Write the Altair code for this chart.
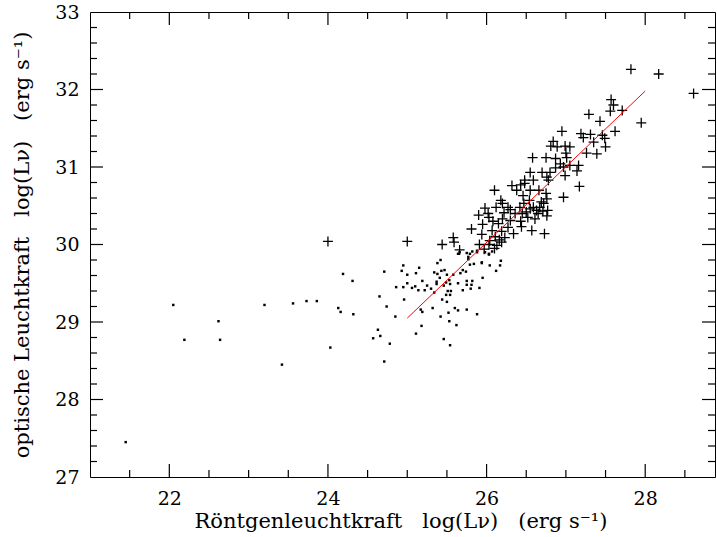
import altair as alt
import pandas as pd

# ---- data ----
dot_x = [21.45, 22.05, 22.19, 22.62, 22.64, 23.20, 23.42, 23.56, 23.73, 23.86,
         24.03, 24.13, 24.16, 24.19, 24.31, 24.32, 24.71, 24.86, 24.65, 24.74,
         24.85, 24.63, 24.66, 24.57, 24.78, 24.71, 24.95, 24.93, 25.00, 24.95,
         25.00, 24.96, 25.06, 25.10, 25.11, 25.15, 25.14, 25.19, 25.22, 25.25,
         25.30, 25.34, 25.34, 25.38, 25.42, 25.38, 25.37, 25.37, 25.41, 25.43,
         25.47, 25.50, 25.46, 25.49, 25.53, 25.54, 25.51, 25.55, 25.49, 25.54,
         25.44, 25.50, 25.32, 25.19, 25.17, 25.42, 25.52, 25.60, 25.64, 25.53,
         25.62, 25.75, 25.88, 25.18, 25.11, 25.46, 25.54, 25.58, 25.64, 25.67,
         25.70, 25.74, 25.75, 25.75, 25.70, 25.79, 25.82, 25.80, 25.84, 25.81,
         25.91, 25.94, 25.95, 26.04, 26.12, 26.17, 26.18, 25.64, 25.66, 25.79,
         25.82, 25.88, 25.98, 26.03, 26.07, 25.77, 25.75, 25.77, 25.88, 25.94,
         26.03]
dot_y = [27.45, 29.22, 28.77, 29.01, 28.77, 29.22, 28.45, 29.24, 29.27, 29.27,
         28.67, 29.18, 29.13, 29.62, 29.53, 29.10, 29.65, 29.45, 29.33, 29.20,
         29.07, 28.90, 28.82, 28.79, 28.72, 28.49, 29.73, 29.66, 29.61, 29.45,
         29.50, 29.29, 29.44, 29.46, 29.63, 29.70, 29.41, 29.53, 29.41, 29.47,
         29.43, 29.38, 29.64, 29.76, 29.80, 29.62, 29.52, 29.49, 29.57, 29.66,
         29.67, 29.61, 29.47, 29.51, 29.54, 29.49, 29.40, 29.40, 29.35, 29.35,
         29.29, 29.26, 29.18, 29.13, 29.16, 29.07, 29.12, 29.18, 29.15, 29.01,
         28.96, 29.16, 29.10, 28.95, 28.85, 28.78, 28.70, 29.61, 29.50, 29.63,
         29.67, 29.65, 29.53, 29.48, 29.41, 29.74, 29.53, 29.43, 29.75, 29.48,
         29.44, 29.76, 29.57, 29.73, 29.66, 29.73, 29.79, 29.88, 29.90, 29.88,
         29.91, 29.90, 29.90, 29.87, 29.91, 29.84, 29.89, 29.81, 29.92, 29.77,
         29.88]

cross_x = [24.00, 25.00, 25.44, 25.58, 25.59, 25.66, 25.81, 25.90, 25.95, 25.94,
           25.98, 26.02, 26.03, 26.08, 26.10, 26.18, 26.12, 26.20, 26.27, 26.22,
           26.07, 26.11, 26.16, 26.19, 26.27, 26.15, 26.20, 26.34, 26.03, 26.10,
           25.97, 25.91, 26.32, 26.38, 26.43, 26.45, 26.43, 26.42, 26.30, 26.30,
           26.36, 26.44, 26.52, 26.50, 26.57, 26.73, 26.47, 26.55, 26.54, 26.63,
           26.59, 26.67, 26.71, 26.77, 26.76, 26.65, 26.61, 26.69, 26.72, 26.76,
           26.97, 26.66, 26.75, 26.46, 26.48, 26.59, 26.78, 26.76, 26.48, 27.17,
           26.55, 26.70, 26.80, 26.87, 26.97, 26.99, 27.14, 27.05, 26.93, 27.16,
           26.58, 26.75, 26.87, 27.01, 27.00, 26.84, 26.81, 26.89, 26.99, 27.05,
           26.95, 27.19, 27.22, 27.31, 27.35, 27.46, 27.62, 27.50, 27.39, 27.26,
           27.29, 27.43, 27.57, 27.60, 27.56, 27.71, 27.82, 28.17, 28.61, 27.95,
           27.49, 26.55, 26.04, 26.13, 26.23, 26.19]
cross_y = [30.04, 30.04, 30.00, 30.09, 30.03, 29.93, 30.20, 30.38, 30.26, 30.13,
           30.47, 30.40, 30.35, 30.30, 30.70, 30.57, 30.48, 30.53, 30.48, 30.41,
           30.18, 30.10, 30.06, 30.17, 30.22, 30.27, 30.33, 30.14, 30.00, 29.95,
           29.94, 30.00, 30.76, 30.70, 30.77, 30.40, 30.30, 30.48, 30.31, 30.45,
           30.40, 30.23, 30.35, 30.42, 30.18, 30.14, 30.53, 30.46, 30.57, 30.44,
           30.48, 30.48, 30.43, 30.44, 30.37, 30.40, 30.33, 30.55, 30.53, 30.59,
           30.61, 30.70, 30.66, 30.63, 30.83, 30.83, 30.83, 30.87, 30.79, 30.75,
           30.93, 30.93, 30.93, 30.99, 31.00, 30.89, 30.95, 31.02, 31.04, 31.02,
           31.12, 31.12, 31.11, 31.12, 31.18, 31.33, 31.27, 31.26, 31.27, 31.26,
           31.46, 31.43, 31.38, 31.42, 31.32, 31.41, 31.46, 31.26, 31.17, 31.18,
           31.68, 31.59, 31.87, 31.80, 31.72, 31.73, 32.26, 32.20, 31.95, 31.57,
           31.37, 30.70, 30.05, 29.99, 30.09, 30.03]

fit_x = [25.0, 28.0]
fit_y = [29.05, 31.98]

x_major = [22, 24, 26, 28]
x_minor = [21.5, 22.5, 23, 23.5, 24.5, 25, 25.5, 26.5, 27, 27.5, 28.5]
y_major = [28, 29, 30, 31, 32]
y_labels = [27, 28, 29, 30, 31, 32, 33]
y_minor = [27.2, 27.4, 27.6, 27.8, 28.2, 28.4, 28.6, 28.8, 29.2, 29.4, 29.6, 29.8,
           30.2, 30.4, 30.6, 30.8, 31.2, 31.4, 31.6, 31.8, 32.2, 32.4, 32.6, 32.8]

NB = "\u00a0"
x_title = f"Röntgenleuchtkraft{NB}{NB}{NB}log(Lν){NB}{NB}{NB}(erg{NB}s⁻¹)"
y_title = f"optische{NB}Leuchtkraft{NB}{NB}{NB}log(Lν){NB}{NB}{NB}(erg{NB}s⁻¹)"

# ---- chart ----
W, H = 625, 465
X_DOM = [21.0, 28.88]
Y_DOM = [27.0, 33.0]
FONT = "DejaVu Serif"
MAJ_SIZE, MIN_SIZE = 169, 49   # symbol areas giving 13 px and 7 px tick lengths

dots = pd.DataFrame({"x": dot_x, "y": dot_y})
crosses = pd.DataFrame({"x": cross_x, "y": cross_y})
fit = pd.DataFrame({"x": fit_x, "y": fit_y})

xs = alt.Scale(domain=X_DOM, nice=False, zero=False)
ys = alt.Scale(domain=Y_DOM, nice=False, zero=False)

label_x = alt.Axis(orient="bottom", values=x_major, format="d", ticks=False, domain=False,
                   grid=False, title=x_title, labelPadding=12,
                   titleX=W / 2 - 2, titleY=50, titleBaseline="alphabetic",
                   labelFlush=False)
label_y = alt.Axis(orient="left", values=y_labels, format="d", ticks=False, domain=False,
                   grid=False, title=y_title, labelPadding=11,
                   titleX=-62, titleY=H / 2, titleBaseline="alphabetic",
                   labelFlush=False)

cross_shape = "M-1,0L1,0M0,-1L0,1"
UP, DOWN = "M0,0L0,-2", "M0,0L0,2"
RIGHT, LEFT = "M0,0L2,0", "M0,0L-2,0"

# inward tick marks: one-sided line symbols anchored on the frame
rows = []
for vals, sz in ((x_major, MAJ_SIZE), (x_minor, MIN_SIZE)):
    for v in vals:
        rows.append({"x": v, "y": Y_DOM[0], "shape": UP, "size": sz})
        rows.append({"x": v, "y": Y_DOM[1], "shape": DOWN, "size": sz})
for vals, sz in ((y_major, MAJ_SIZE), (y_minor, MIN_SIZE)):
    for v in vals:
        rows.append({"x": X_DOM[0], "y": v, "shape": RIGHT, "size": sz})
        rows.append({"x": X_DOM[1], "y": v, "shape": LEFT, "size": sz})
ticks = pd.DataFrame(rows)

l_dots = alt.Chart(dots).mark_square(size=6, color="black", opacity=1).encode(
    x=alt.X("x:Q", scale=xs, axis=label_x),
    y=alt.Y("y:Q", scale=ys, axis=label_y),
)
l_ticks = alt.Chart(ticks).mark_point(filled=False, color="black", strokeWidth=1.2,
                                      opacity=1).encode(
    x=alt.X("x:Q", scale=xs),
    y=alt.Y("y:Q", scale=ys),
    shape=alt.Shape("shape:N", scale=None, legend=None),
    size=alt.Size("size:Q", scale=None, legend=None),
)
l_cross = alt.Chart(crosses).mark_point(shape=cross_shape, size=100, filled=False,
                                         color="black", strokeWidth=1.3, opacity=1).encode(
    x=alt.X("x:Q", scale=xs),
    y=alt.Y("y:Q", scale=ys),
)
l_fit = alt.Chart(fit).mark_line(color="#ff0000", strokeWidth=1).encode(
    x=alt.X("x:Q", scale=xs),
    y=alt.Y("y:Q", scale=ys),
)

chart = alt.layer(l_dots, l_ticks, l_cross, l_fit).properties(
    width=W, height=H,
    autosize=alt.AutoSizeParams(type="none"),
    padding={"left": 90, "top": 12, "right": 2, "bottom": 60},
    background="white",
).configure_view(stroke="black", strokeWidth=1).configure_axis(
    labelFont=FONT, titleFont=FONT, labelFontSize=19, titleFontSize=21,
    labelColor="black", titleColor="black", titleFontWeight="normal",
)

chart.save("out.html", embed_options={"renderer": "svg", "actions": False})
